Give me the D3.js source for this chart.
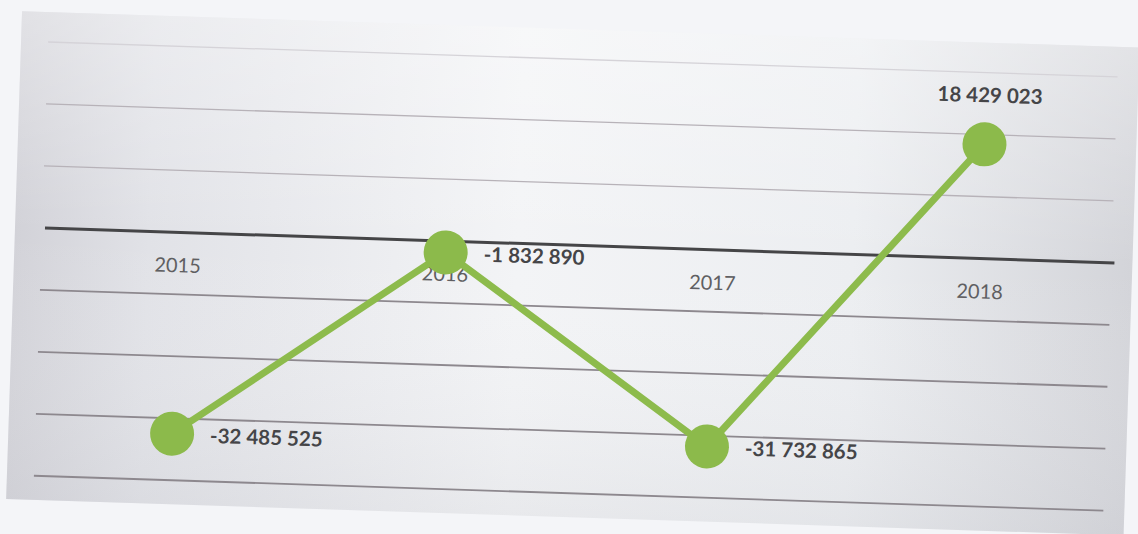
<!DOCTYPE html>
<html>
<head>
<meta charset="utf-8">
<title>2015-2018</title>
<style>
  body { margin: 0; background: #f4f5f8; }
  svg { display: block; }
  .cat { font-family: Lato, 'Open Sans', sans-serif; font-size: 20px; fill: #5f5f62; }
  .val { font-family: Lato, 'Open Sans', sans-serif; font-size: 20.5px; font-weight: 700; fill: #454548; }
</style>
</head>
<body>
<svg width="1138" height="534"></svg>
<script src="https://d3js.org/d3.v7.min.js"></script>
<script>
  // data
  const years = ["2015", "2016", "2017", "2018"];
  const values = [-32485525, -1832890, -31732865, 18429023];
  const gridValues = [-40e6, -30e6, -20e6, -10e6, 10e6, 20e6, 30e6];

  const width = 1138, height = 534;
  const svg = d3.select("svg");

  // the scan is tilted a bit, so the whole chart gets rotated round the left end of the zero line
  const pivot = [45, 228];
  const tilt = 1.87;

  const defs = svg.append("defs");
  const grad = defs.append("linearGradient").attr("id", "panel").attr("x1", 0).attr("x2", 1).attr("y1", 0).attr("y2", 0);
  grad.append("stop").attr("offset", "0%").attr("stop-color", "#d2d2d8");
  grad.append("stop").attr("offset", "12%").attr("stop-color", "#e1e2e7");
  grad.append("stop").attr("offset", "45%").attr("stop-color", "#f3f4f6");
  grad.append("stop").attr("offset", "75%").attr("stop-color", "#eceef1");
  grad.append("stop").attr("offset", "100%").attr("stop-color", "#d3d4d9");

  const vgrad = defs.append("linearGradient").attr("id", "shade").attr("x1", 0).attr("x2", 0).attr("y1", 0).attr("y2", 1);
  vgrad.append("stop").attr("offset", "0%").attr("stop-color", "#ffffff").attr("stop-opacity", 0.35);
  vgrad.append("stop").attr("offset", "45%").attr("stop-color", "#ffffff").attr("stop-opacity", 0);
  vgrad.append("stop").attr("offset", "100%").attr("stop-color", "#c8c9cf").attr("stop-opacity", 0.25);

  const g = svg.append("g")
    .attr("transform", `rotate(${tilt},${pivot[0]},${pivot[1]})`);

  g.append("rect")
    .attr("x", 15).attr("y", 12)
    .attr("width", 1118).attr("height", 488)
    .attr("fill", "url(#panel)");
  g.append("rect")
    .attr("x", 15).attr("y", 12)
    .attr("width", 1118).attr("height", 488)
    .attr("fill", "url(#shade)");

  let x = d3.scalePoint()
    .domain(years)
    .range([45, 1115])
    .padding(0.5);

  let y = d3.scaleLinear()
    .domain([-40e6, 30e6])
    .range([228 + 4 * 62, 228 - 3 * 62]);

  // grey gridlines
  g.append("g")
    .selectAll("line")
    .data(gridValues)
    .join("line")
    .attr("x1", 42)
    .attr("x2", 1112)
    .attr("y1", d => y(d))
    .attr("y2", d => y(d))
    .attr("stroke", d => d >= 30e6 ? "#d5d3d8" : (d > 0 ? "#b7b2b8" : "#8d888e"))
    .attr("stroke-width", d => d > 0 ? 1.3 : 1.8);

  // zero line
  g.append("line")
    .attr("x1", 45).attr("x2", 1115)
    .attr("y1", y(0)).attr("y2", y(0))
    .attr("stroke", "#454547")
    .attr("stroke-width", 3);

  // category labels under the zero line
  g.append("g")
    .selectAll("text")
    .data(years)
    .join("text")
    .attr("class", "cat")
    .attr("x", d => x(d))
    .attr("y", y(0) + 40)
    .attr("text-anchor", "middle")
    .text(d => d);

  const pts = years.map((yr, i) => ({ year: yr, value: values[i] }));

  let line = d3.line()
    .x(d => x(d.year))
    .y(d => y(d.value));

  g.append("path")
    .datum(pts)
    .attr("d", line)
    .attr("fill", "none")
    .attr("stroke", "#8dbb4c")
    .attr("stroke-width", 7);

  g.append("g")
    .selectAll("circle")
    .data(pts)
    .join("circle")
    .attr("cx", d => x(d.year))
    .attr("cy", d => y(d.value))
    .attr("r", 22)
    .attr("fill", "#8cba4b");

  // space as thousands separator
  const fmt = d3.formatLocale({ decimal: ",", thousands: " ", grouping: [3], currency: ["", ""], minus: "-" }).format(",d");

  g.append("g")
    .selectAll("text")
    .data(pts)
    .join("text")
    .attr("class", "val")
    .attr("x", d => d.value > 0 ? x(d.year) + 4 : x(d.year) + 38)
    .attr("y", d => d.value > 0 ? y(d.value) - 42 : y(d.value) + 8)
    .attr("text-anchor", d => d.value > 0 ? "middle" : "start")
    .text(d => fmt(d.value));
</script>
</body>
</html>
